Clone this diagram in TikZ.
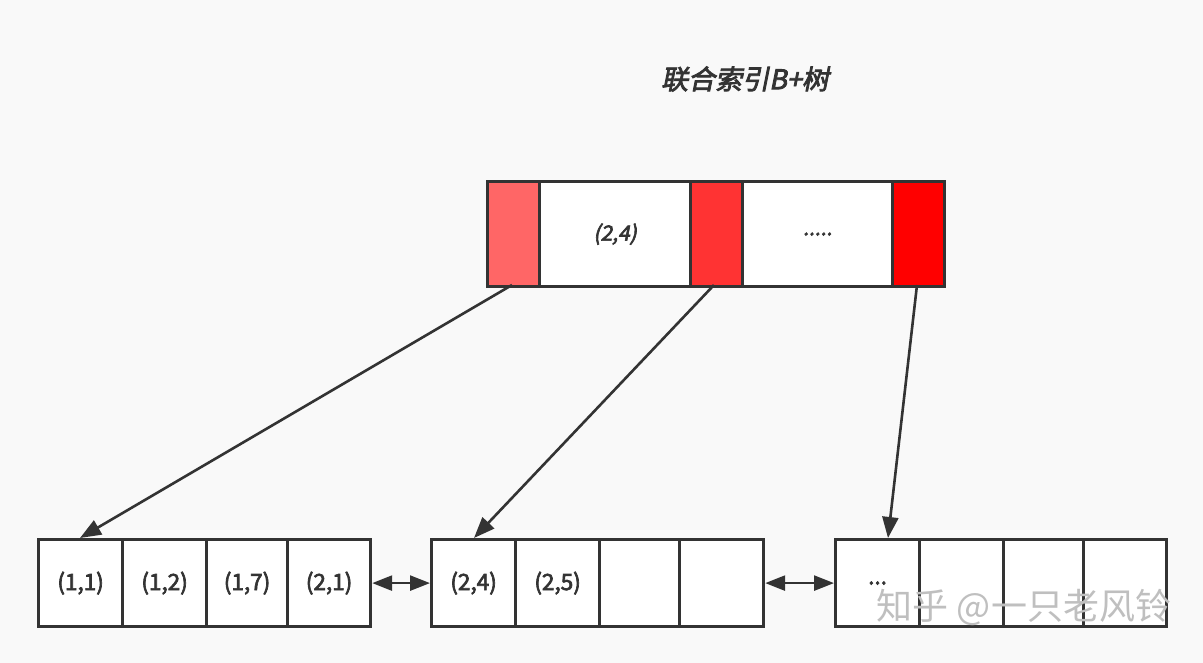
\documentclass[tikz,border=0pt]{standalone}
\usepackage{fontspec}
\usetikzlibrary{arrows.meta}
\newfontfamily\cjkb[FakeBold=3]{Noto Sans CJK SC}
\newfontfamily\cjkbi[FakeBold=3,FakeSlant=0.2]{Noto Sans CJK SC}
\newfontfamily\cjkr{Noto Sans CJK SC}
\definecolor{bg}{HTML}{F9F9F9}
\definecolor{ln}{HTML}{333333}
\definecolor{redA}{HTML}{FF6666}
\definecolor{redB}{HTML}{FF3333}
\definecolor{redC}{HTML}{FF0000}
\tikzset{
  cell/.style={draw=ln, line width=3.2pt, fill=white, minimum height=87pt, inner sep=0pt, anchor=north west, font=\cjkb\fontsize{22.5}{22.5}\selectfont, text=ln},
  topcell/.style={draw=ln, line width=3.2pt, minimum height=105pt, inner sep=0pt, anchor=north west, font=\cjkbi\fontsize{21}{21}\selectfont, text=ln},
  ptr/.style={ln, line width=2.6pt, -{Triangle[length=21pt,width=16pt]}},
  dbl/.style={ln, line width=2.6pt, {Triangle[length=20pt,width=15pt]}-{Triangle[length=20pt,width=15pt]}}
}
\begin{document}
\begin{tikzpicture}[x=1pt,y=-1pt]
\fill[bg] (0,0) rectangle (1203,663);
\useasboundingbox (0,0) rectangle (1203,663);
\node[font=\cjkbi\fontsize{27}{27}\selectfont, text=ln] (title) at (745,79) {联合索引B+树};
% top node
\node[topcell, fill=redA, minimum width=52pt] (p1) at (486,180) {};
\node[topcell, fill=white, minimum width=151pt] (k1) at (538,180) {(2,4)};
\node[topcell, fill=redB, minimum width=52pt] (p2) at (689,180) {};
\node[topcell, fill=white, minimum width=150pt] (k2) at (741,180) {.....};
\node[topcell, fill=redC, minimum width=52pt] (p3) at (891,180) {};
% leaf 1
\node[cell, minimum width=84pt] (a1) at (37,538) {(1,1)};
\node[cell, minimum width=84pt] (a2) at (121,538) {(1,2)};
\node[cell, minimum width=81pt] (a3) at (205,538) {(1,7)};
\node[cell, minimum width=83pt] (a4) at (286,538) {(2,1)};
% leaf 2
\node[cell, minimum width=84pt] (b1) at (430,538) {(2,4)};
\node[cell, minimum width=84pt] (b2) at (514,538) {(2,5)};
\node[cell, minimum width=80pt] (b3) at (598,538) {};
\node[cell, minimum width=84pt] (b4) at (678,538) {};
% leaf 3
\node[cell, minimum width=84pt] (c1) at (834,538) {...};
\node[cell, minimum width=84pt] (c2) at (918,538) {};
\node[cell, minimum width=80pt] (c3) at (1002,538) {};
\node[cell, minimum width=83pt] (c4) at (1082,538) {};
% pointers
\coordinate (u1) at (512,285);
\coordinate (u2) at (714,285);
\coordinate (u3) at (917,285);
\coordinate (t1) at (80,538);
\coordinate (t2) at (474,538);
\coordinate (t3) at (888,538);
\draw[ptr] (u1) -- (t1);
\draw[ptr] (u2) -- (t2);
\draw[ptr] (u3) -- (t3);
\draw[dbl] (a4.east) -- (b1.west);
\draw[dbl] (b4.east) -- (c1.west);
% watermark
\node[font=\cjkr\fontsize{36}{36}\selectfont, text=black!25] (wm) at (1024,607) {知乎 @一只老风铃};
\end{tikzpicture}
\end{document}
